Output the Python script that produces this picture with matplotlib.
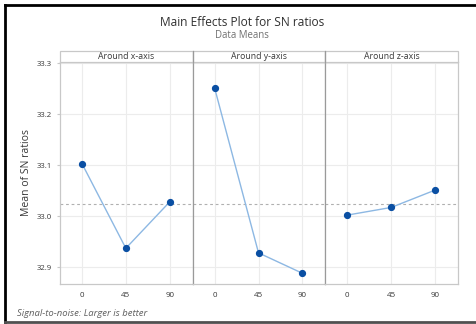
import matplotlib
matplotlib.use("Agg")
import matplotlib.pyplot as plt
from matplotlib.lines import Line2D
from matplotlib.patches import Rectangle
import numpy as np

plt.rcParams['font.family'] = ['Open Sans', 'DejaVu Sans']

levels = [0, 45, 90]
level_labels = ["0", "45", "90"]
panels = ["Around x-axis", "Around y-axis", "Around z-axis"]
sn_means = {
    "Around x-axis": [33.103, 32.937, 33.028],
    "Around y-axis": [33.251, 32.928, 32.888],
    "Around z-axis": [33.002, 33.017, 33.051],
}
y_ticks = [32.9, 33.0, 33.1, 33.2, 33.3]
y_tick_labels = ["32.9", "33.0", "33.1", "33.2", "33.3"]

grand_mean = np.mean([v for vals in sn_means.values() for v in vals])

W, H = 477, 324
fig = plt.figure(figsize=(W / 100, H / 100), dpi=100)

left_px, right_px = 60, 458
top_px, bot_px = 62, 284
strip_h = 11
panel_w = (right_px - left_px) / 3

line_col = "#8db8e3"
marker_col = "#0a4fa3"
grid_col = "#ececec"
text_col = "#383838"

axes = []
for i, name in enumerate(panels):
    x0 = left_px + i * panel_w
    ax = fig.add_axes([x0 / W, 1 - bot_px / H, panel_w / W, (bot_px - top_px) / H])
    vals = sn_means[name]
    ax.axhline(grand_mean, color="#b0b0b0", lw=0.8, ls=(0, (2.5, 2.5)), zorder=1)
    ax.plot(levels, vals, color=line_col, lw=1.0, zorder=2)
    ax.plot(levels, vals, 'o', color=marker_col, ms=4.2, zorder=3)
    ax.set_xlim(-22.5, 113.5)
    ax.set_ylim(32.867, 33.302)
    ax.set_xticks(levels)
    ax.set_xticklabels(level_labels)
    ax.set_yticks(y_ticks)
    ax.grid(True, color=grid_col, lw=0.8, zorder=0)
    ax.set_axisbelow(True)
    for s in ax.spines.values():
        s.set_color("#c8c8c8")
        s.set_linewidth(0.9)
    ax.tick_params(axis='x', length=0, pad=6, labelsize=5.8, colors=text_col)
    if i == 0:
        ax.set_yticklabels(y_tick_labels)
        ax.tick_params(axis='y', length=2, pad=4, labelsize=5.6, colors=text_col,
                       color="#c8c8c8")
        ax.set_ylabel("Mean of SN ratios", fontsize=7.5, color=text_col, labelpad=3)
    else:
        ax.tick_params(axis='y', length=0, labelleft=False)
    if i > 0:
        ax.spines['left'].set_color("#9a9a9a")
    # strip header
    sx = x0 / W
    sy = 1 - top_px / H
    fig.add_artist(Rectangle((sx, sy), panel_w / W, strip_h / H, transform=fig.transFigure,
                             facecolor="white", edgecolor="#c8c8c8", lw=0.9))
    fig.text(sx + panel_w / W / 2, sy + strip_h / H / 2, name, ha="center", va="center",
             fontsize=6.3, color=text_col)
    axes.append(ax)

# divider lines between panels in strip area
for i in (1, 2):
    xf = (left_px + i * panel_w) / W
    fig.add_artist(Line2D([xf, xf], [1 - top_px / H, 1 - (top_px - strip_h) / H],
                          transform=fig.transFigure, color="#9a9a9a", lw=0.9))

fig.text(242 / W, 1 - 23 / H, "Main Effects Plot for SN ratios", ha="center", va="center",
         fontsize=8.6, color="#303030")
fig.text(242 / W, 1 - 36 / H, "Data Means", ha="center", va="center",
         fontsize=6.9, color="#707070")
fig.text(17 / W, 1 - 313 / H, "Signal-to-noise: Larger is better", ha="left", va="center",
         fontsize=6.8, style="italic", color="#606060")

# outer frame
fig.add_artist(Line2D([5 / W, 1], [1 - 5 / H, 1 - 5 / H], transform=fig.transFigure,
                      color="black", lw=2.0))
fig.add_artist(Line2D([5 / W, 5 / W], [1 - 5 / H, 1 - 322 / H], transform=fig.transFigure,
                      color="black", lw=2.0))
fig.add_artist(Line2D([5 / W, 1], [1 - 322 / H, 1 - 322 / H], transform=fig.transFigure,
                      color="#505050", lw=2.0))

fig.savefig("out.png", dpi=100, facecolor="white")
